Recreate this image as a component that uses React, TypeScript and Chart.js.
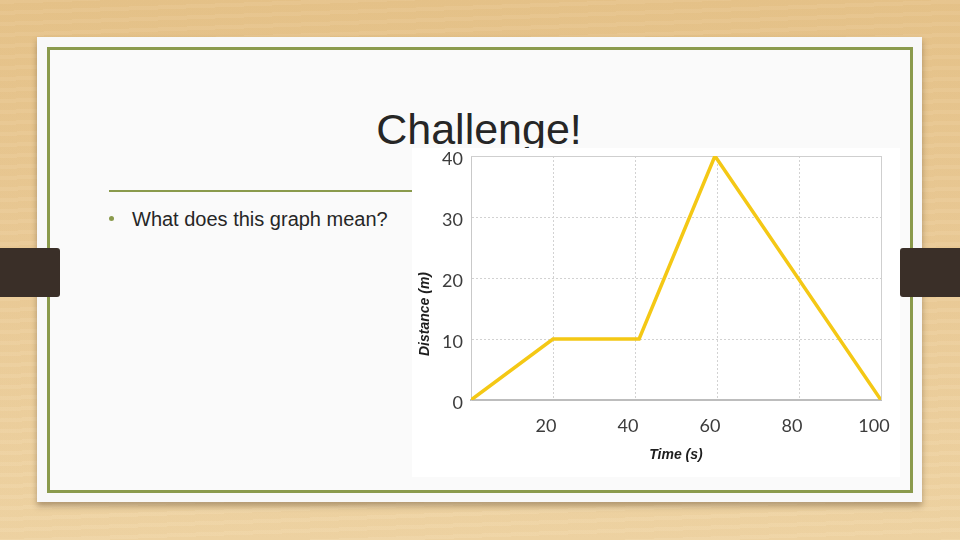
import React, { useEffect, useRef } from "react";
import { Chart, registerables } from "chart.js";

Chart.register(...registerables);

// ---- data ----
const timeValues = [0, 20, 41, 59.5, 100];
const distanceValues = [0, 10, 10, 40, 0];
const xMin = 0;
const xMax = 100;
const xStep = 20;
const yMin = 0;
const yMax = 40;
const yStep = 10;
const xTitle = "Time (s)";
const yTitle = "Distance (m)";
const slideTitle = "Challenge!";
const bulletText = "What does this graph mean?";

const LINE_COLOR = "#F4C815";
const GRID_COLOR = "#d2d2d2";
const OLIVE = "#8a9a4c";

const yTitlePlugin = {
  id: "yTitleCustom",
  afterDraw(chart: any) {
    const { ctx, chartArea } = chart;
    ctx.save();
    ctx.font = 'italic bold 14px "Liberation Sans", Arial, sans-serif';
    ctx.fillStyle = "#1e1e1e";
    ctx.textAlign = "center";
    ctx.textBaseline = "middle";
    ctx.translate(chartArea.left - 46, (chartArea.top + chartArea.bottom) / 2 + 36);
    ctx.rotate(-Math.PI / 2);
    ctx.fillText(yTitle, 0, 0);
    ctx.restore();
  },
};

const framePlugin = {
  id: "frameTopRight",
  beforeDatasetsDraw(chart: any) {
    const { ctx, chartArea } = chart;
    ctx.save();
    ctx.strokeStyle = "#cfcfcf";
    ctx.lineWidth = 1;
    ctx.beginPath();
    ctx.moveTo(chartArea.left, chartArea.top + 0.5);
    ctx.lineTo(chartArea.right + 0.5, chartArea.top + 0.5);
    ctx.lineTo(chartArea.right + 0.5, chartArea.bottom);
    ctx.stroke();
    ctx.restore();
  },
};

function DistanceChart() {
  const ref = useRef<HTMLCanvasElement | null>(null);
  useEffect(() => {
    if (!ref.current) return;
    const chart = new Chart(ref.current, {
      type: "line",
      data: {
        datasets: [
          {
            data: timeValues.map((t, i) => ({ x: t, y: distanceValues[i] })),
            borderColor: LINE_COLOR,
            borderWidth: 3.5,
            pointRadius: 0,
            tension: 0,
            fill: false,
            borderJoinStyle: "miter",
          },
        ],
      },
      options: {
        responsive: false,
        animation: false,
        layout: { padding: 0 },
        plugins: {
          legend: { display: false },
          tooltip: { enabled: false },
          title: { display: false },
        },
        scales: {
          x: {
            type: "linear",
            min: xMin,
            max: xMax,
            afterFit: (s: any) => {
              s.height = 77;
              s.paddingLeft = 0;
              s.paddingRight = 19;
            },
            ticks: {
              stepSize: xStep,
              padding: 15,
              labelOffset: -7,
              color: "#3c3c3c",
              font: { family: "Lato, 'Liberation Sans', sans-serif", size: 18 },
              callback: (v: any) => (v === 0 ? "" : String(v)),
              maxRotation: 0,
            },
            grid: { color: GRID_COLOR, lineWidth: 1, drawTicks: false },
            border: { display: true, color: "#bdbdbd", width: 2, dash: [2, 2] },
            title: {
              display: true,
              text: xTitle,
              color: "#1e1e1e",
              font: { family: "'Liberation Sans', Arial, sans-serif", size: 14, weight: "bold", style: "italic" },
              padding: { top: 0, bottom: 13 },
            },
          },
          y: {
            type: "linear",
            min: yMin,
            max: yMax,
            afterFit: (s: any) => {
              s.width = 59;
              s.paddingTop = 8;
              s.paddingBottom = 0;
            },
            ticks: {
              stepSize: yStep,
              padding: 8,
              labelOffset: 3,
              color: "#3c3c3c",
              font: { family: "Lato, 'Liberation Sans', sans-serif", size: 18, lineHeight: 0.9 },
            },
            grid: { color: GRID_COLOR, lineWidth: 1, drawTicks: false },
            border: { display: true, color: "#c9c9c9", width: 1, dash: [2, 2] },
          },
        },
      },
      plugins: [framePlugin, yTitlePlugin],
    } as any);
    return () => chart.destroy();
  }, []);
  return <canvas ref={ref} width={488} height={329} style={{ display: "block", width: 488, height: 329 }} />;
}

export default function App() {
  return (
    <div
      style={{
        position: "absolute",
        left: 0,
        top: 0,
        width: 960,
        height: 540,
        overflow: "hidden",
        fontFamily: "'Liberation Sans', Arial, sans-serif",
        background:
          "repeating-linear-gradient(178deg, rgba(255,255,255,0.04) 0px, rgba(255,255,255,0.04) 4px, rgba(160,110,40,0.025) 4px, rgba(160,110,40,0.025) 11px), linear-gradient(180deg, #e6c38a 0%, #eaca96 45%, #efd4a4 100%)",
      }}
    >
      {/* card */}
      <div
        style={{
          position: "absolute",
          left: 37,
          top: 37,
          width: 885,
          height: 465,
          background: "#f8f8f8",
          boxShadow: "0 4px 6px rgba(60,40,20,0.35)",
        }}
      />
      {/* green frame */}
      <div
        style={{
          position: "absolute",
          left: 47,
          top: 47,
          width: 866,
          height: 446,
          boxSizing: "border-box",
          border: `3px solid ${OLIVE}`,
          background: "#fafafa",
        }}
      />
      {/* title */}
      <div
        style={{
          position: "absolute",
          left: 0,
          top: 108,
          width: 958,
          textAlign: "center",
          fontSize: 43,
          lineHeight: "43px",
          color: "#262626",
          whiteSpace: "nowrap",
        }}
      >
        {slideTitle}
      </div>
      {/* rule */}
      <div style={{ position: "absolute", left: 109, top: 190, width: 320, height: 2, background: OLIVE }} />
      {/* bullet */}
      <div
        style={{
          position: "absolute",
          left: 109,
          top: 216,
          width: 5,
          height: 5,
          borderRadius: "50%",
          background: OLIVE,
        }}
      />
      <div
        style={{
          position: "absolute",
          left: 132,
          top: 209,
          fontSize: 20,
          lineHeight: "20px",
          color: "#262626",
          whiteSpace: "nowrap",
        }}
      >
        {bulletText}
      </div>
      {/* chart image */}
      <div style={{ position: "absolute", left: 412, top: 148, width: 488, height: 329, background: "#ffffff" }}>
        <DistanceChart />
      </div>
      {/* binder clips */}
      <div style={{ position: "absolute", left: 0, top: 248, width: 60, height: 49, background: "#3a2f28", borderRadius: "0 3px 3px 0" }} />
      <div style={{ position: "absolute", left: 900, top: 248, width: 60, height: 49, background: "#3a2f28", borderRadius: "3px 0 0 3px" }} />
    </div>
  );
}
